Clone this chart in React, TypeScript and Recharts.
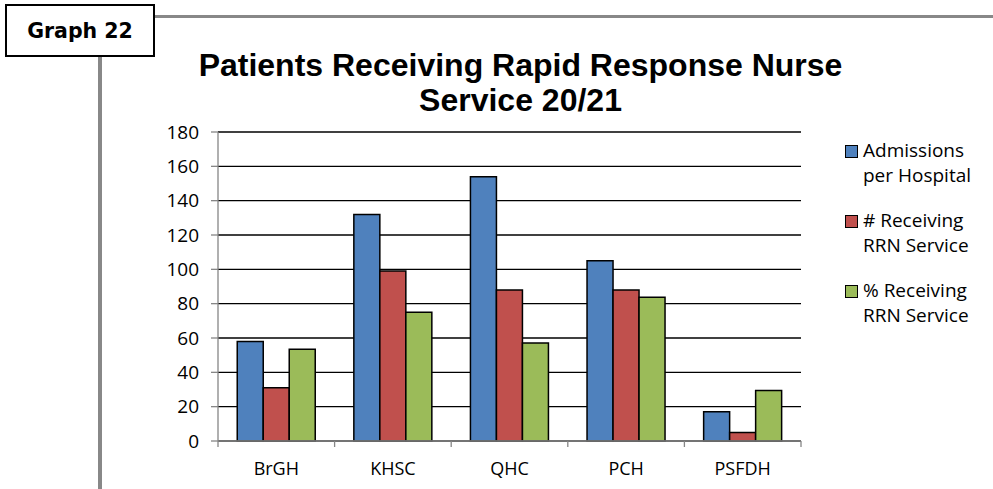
import React from "react";
import { BarChart, Bar, XAxis, YAxis, CartesianGrid, Legend } from "recharts";

// ---- chart data ----
const hospitals = ["BrGH", "KHSC", "QHC", "PCH", "PSFDH"];
const admissionsPerHospital = [58, 132, 154, 105, 17];
const receivingRrnService = [31, 99, 88, 88, 5];
const percentReceivingRrnService = [53.4, 75, 57.1, 83.8, 29.4];
const yTicks = [0, 20, 40, 60, 80, 100, 120, 140, 160, 180];
const seriesNames = [
  "Admissions per Hospital",
  "# Receiving RRN Service",
  "% Receiving RRN Service",
];
const seriesKeys = ["admissions", "receiving", "percent"];
const seriesColors = ["#4F81BD", "#C0504D", "#9BBB59"];
const titleLines = ["Patients Receiving Rapid Response Nurse", "Service 20/21"];
const graphLabel = "Graph 22";

const rows = hospitals.map((hospital, i) => ({
  hospital,
  admissions: admissionsPerHospital[i],
  receiving: receivingRrnService[i],
  percent: percentReceivingRrnService[i],
}));

// ---- layout ----
const WIDTH = 993;
const HEIGHT = 489;
const PLOT_LEFT = 218;
const PLOT_RIGHT = 801;
const PLOT_TOP = 132;
const PLOT_BOTTOM = 441;
const X_AXIS_HEIGHT = 30;
const Y_AXIS_WIDTH = 118;
const BAND = (PLOT_RIGHT - PLOT_LEFT) / hospitals.length;
const AXIS_GREY = "#868686";
const BODY_FONT = '"Open Sans", "Noto Sans", sans-serif';

// Category labels with tick marks placed on the category boundaries.
function HospitalTick(props: any) {
  const { x, y, payload, index } = props;
  const left = x - BAND / 2;
  const right = x + BAND / 2;
  const isLast = index === hospitals.length - 1;
  return (
    <g>
      <line x1={left} x2={left} y1={PLOT_BOTTOM} y2={PLOT_BOTTOM + 6} stroke={AXIS_GREY} strokeWidth={1.3} />
      {isLast && (
        <line x1={right} x2={right} y1={PLOT_BOTTOM} y2={PLOT_BOTTOM + 6} stroke={AXIS_GREY} strokeWidth={1.3} />
      )}
      <text
        x={x}
        y={y}
        dy="0.71em"
        textAnchor="middle"
        fill="#000"
        fontFamily={BODY_FONT}
        fontSize={18}
      >
        {payload.value}
      </text>
    </g>
  );
}

// Legend entries kept in series order, each with a bordered swatch.
function LegendContent(props: any) {
  const payload = [...(props.payload || [])].sort(
    (a: any, b: any) => seriesNames.indexOf(a.value) - seriesNames.indexOf(b.value)
  );
  return (
    <div style={{ fontFamily: BODY_FONT, fontSize: 19, lineHeight: "25px", color: "#000" }}>
      {payload.map((entry: any, i: number) => (
        <div key={i} style={{ display: "flex", alignItems: "flex-start", marginBottom: 20 }}>
          <span
            style={{
              boxSizing: "border-box",
              width: 13,
              height: 13,
              marginTop: 7,
              marginRight: 5,
              flex: "none",
              background: entry.color,
              border: "1.5px solid #000",
            }}
          />
          <span style={{ width: 122 }}>{entry.value}</span>
        </div>
      ))}
    </div>
  );
}

export default function App() {
  return (
    <div
      style={{
        position: "absolute",
        left: 0,
        top: 0,
        width: WIDTH,
        height: HEIGHT,
        background: "#fff",
        overflow: "hidden",
      }}
    >
      {/* frame lines */}
      <div style={{ position: "absolute", left: 155, top: 15, width: WIDTH - 155, height: 3, background: "#888" }} />
      <div style={{ position: "absolute", left: 98, top: 57, width: 4, height: HEIGHT - 57, background: "#888" }} />
      <div
        style={{
          position: "absolute",
          left: 5,
          top: 4,
          width: 150,
          height: 53,
          boxSizing: "border-box",
          border: "2px solid #000",
          background: "#fff",
          display: "flex",
          alignItems: "center",
          justifyContent: "center",
          fontFamily: '"DejaVu Sans", sans-serif',
          fontWeight: 700,
          fontSize: 20.5,
          color: "#000",
        }}
      >
        {graphLabel}
      </div>

      {/* title */}
      <div
        style={{
          position: "absolute",
          left: 120,
          top: 48,
          width: 801,
          textAlign: "center",
          fontFamily: '"Liberation Sans", Arial, sans-serif',
          fontWeight: 700,
          fontSize: 32,
          lineHeight: "35px",
          color: "#000",
        }}
      >
        {titleLines.map((line) => (
          <div key={line}>{line}</div>
        ))}
      </div>

      <div style={{ position: "absolute", left: 0, top: 0 }}>
        <BarChart
          width={WIDTH}
          height={HEIGHT}
          data={rows}
          margin={{
            top: PLOT_TOP,
            right: WIDTH - PLOT_RIGHT,
            bottom: HEIGHT - PLOT_BOTTOM - X_AXIS_HEIGHT,
            left: PLOT_LEFT - Y_AXIS_WIDTH,
          }}
          barGap={0}
          barCategoryGap="16.5%"
        >
          <CartesianGrid vertical={false} stroke="#000" strokeWidth={1.4} />
          <XAxis
            dataKey="hospital"
            height={X_AXIS_HEIGHT}
            axisLine={{ stroke: AXIS_GREY, strokeWidth: 1.3 }}
            tickLine={false}
            tickSize={6}
            tickMargin={15}
            tick={<HospitalTick />}
            interval={0}
          />
          <YAxis
            width={Y_AXIS_WIDTH}
            domain={[0, 180]}
            ticks={yTicks}
            interval={0}
            axisLine={{ stroke: AXIS_GREY, strokeWidth: 1.3 }}
            tickLine={{ stroke: AXIS_GREY, strokeWidth: 1.3 }}
            tickSize={7}
            tickMargin={12}
            tick={{ fill: "#000", fontFamily: BODY_FONT, fontSize: 19 }}
          />
          <Legend
            layout="vertical"
            align="center"
            verticalAlign="middle"
            wrapperStyle={{ left: 845, top: 138, width: 148 }}
            content={<LegendContent />}
          />
          {seriesKeys.map((key, i) => (
            <Bar
              key={key}
              dataKey={key}
              name={seriesNames[i]}
              fill={seriesColors[i]}
              stroke="#000"
              strokeWidth={1.5}
              isAnimationActive={false}
            />
          ))}
        </BarChart>
      </div>
    </div>
  );
}
